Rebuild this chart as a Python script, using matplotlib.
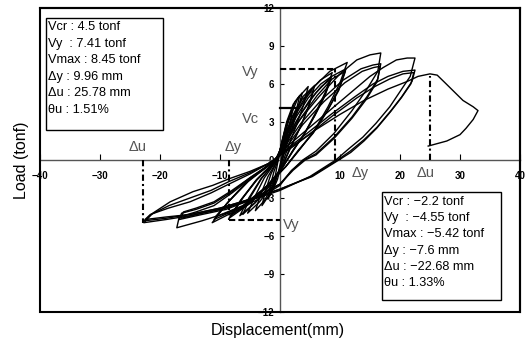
import numpy as np
import matplotlib
matplotlib.use("Agg")
import matplotlib.pyplot as plt
from matplotlib.patches import Rectangle

plt.rcParams['font.family'] = ['Liberation Sans', 'DejaVu Sans']

# ---- hysteresis loops as (disp mm, load tonf) ----
small_loops = [
    [(-0.3, 0.0), (0.2, 1.1), (0.7, 2.1), (1.2, 2.6), (0.9, 1.7), (0.5, 0.7), (0.1, -0.5),
     (-0.4, -1.5), (-1.1, -2.3), (-0.8, -1.3), (-0.5, -0.5), (-0.3, 0.0)],
    [(-0.3, 0.0), (0.3, 1.4), (1.0, 2.7), (1.6, 3.4), (2.1, 3.9), (1.6, 2.8), (1.0, 1.5),
     (0.4, 0.4), (-0.2, -0.8), (-1.0, -2.1), (-2.0, -3.1), (-1.6, -2.0), (-1.0, -0.9), (-0.3, 0.0)],
    [(-0.4, 0.0), (0.3, 1.4), (1.1, 3.0), (2.2, 4.4), (3.3, 5.1), (2.7, 3.9), (1.8, 2.5),
     (0.9, 1.1), (0.0, -0.6), (-1.0, -1.9), (-2.0, -2.9), (-3.0, -3.6), (-2.4, -2.4),
     (-1.5, -1.1), (-0.4, 0.0)],
    [(-0.4, 0.0), (0.4, 1.5), (1.3, 3.1), (2.5, 4.6), (3.7, 5.3), (3.0, 4.0), (2.0, 2.5),
     (1.0, 1.0), (0.0, -0.7), (-1.2, -2.0), (-2.6, -3.2), (-4.1, -4.0), (-3.2, -2.7),
     (-2.0, -1.3), (-0.4, 0.0)],
    [(-0.5, 0.0), (0.5, 1.6), (1.6, 3.3), (3.0, 4.9), (4.7, 5.8), (3.9, 4.3), (2.7, 2.7),
     (1.4, 1.1), (0.1, -0.7), (-1.5, -2.1), (-3.4, -3.3), (-5.4, -4.2), (-4.2, -2.9),
     (-2.6, -1.4), (-0.5, 0.0)],
    [(-0.5, 0.0), (0.6, 1.6), (2.0, 3.4), (3.8, 5.0), (5.8, 5.9), (4.8, 4.3), (3.4, 2.6),
     (1.8, 1.0), (0.2, -0.7), (-1.8, -2.1), (-4.2, -3.4), (-6.7, -4.4), (-5.2, -3.0),
     (-3.2, -1.5), (-0.5, 0.0)],
    [(-0.5, 0.0), (0.6, 1.5), (1.9, 3.2), (3.7, 4.8), (5.6, 5.5), (4.7, 4.1), (3.3, 2.5),
     (1.7, 1.0), (0.2, -0.7), (-1.7, -2.0), (-4.0, -3.3), (-6.2, -4.3), (-4.9, -2.9),
     (-3.0, -1.4), (-0.5, 0.0)],
]

mid_loops = [
    [(-0.6, 0.0), (0.8, 1.8), (2.5, 3.6), (4.5, 5.2), (6.7, 6.3), (8.7, 6.9), (7.6, 5.4),
     (6.0, 3.8), (4.2, 2.2), (2.3, 0.8), (0.4, -0.6), (-2.2, -2.1), (-5.2, -3.5),
     (-8.5, -4.6), (-6.6, -3.2), (-4.0, -1.6), (-0.6, 0.0)],
    [(-0.6, 0.0), (0.9, 1.7), (2.7, 3.4), (4.7, 4.9), (6.8, 6.0), (8.6, 6.6), (7.5, 5.1),
     (5.9, 3.6), (4.1, 2.1), (2.2, 0.8), (0.4, -0.6), (-2.1, -2.0), (-5.0, -3.4),
     (-8.3, -4.4), (-6.4, -3.1), (-3.9, -1.6), (-0.6, 0.0)],
    [(-0.6, 0.0), (1.0, 1.6), (2.9, 3.2), (4.9, 4.7), (6.9, 5.8), (8.5, 6.4), (7.4, 5.0),
     (5.8, 3.5), (4.0, 2.0), (2.1, 0.7), (0.4, -0.6), (-2.0, -2.0), (-4.9, -3.3),
     (-8.0, -4.3), (-6.2, -3.0), (-3.8, -1.5), (-0.6, 0.0)],
    [(-0.7, 0.0), (1.0, 1.9), (3.0, 3.9), (5.5, 5.7), (8.3, 7.0), (11.2, 7.7), (10.0, 6.1),
     (8.0, 4.2), (5.8, 2.4), (3.4, 0.9), (1.0, -0.5), (-2.5, -2.2), (-6.5, -3.8),
     (-11.3, -4.95), (-8.8, -3.4), (-5.5, -1.7), (-0.7, 0.0)],
    [(-0.7, 0.0), (1.2, 1.7), (3.4, 3.6), (6.0, 5.3), (8.6, 6.6), (11.0, 7.2), (9.9, 5.7),
     (7.9, 3.9), (5.6, 2.2), (3.2, 0.8), (1.0, -0.5), (-2.4, -2.2), (-6.3, -3.7),
     (-11.0, -4.7), (-8.6, -3.3), (-5.3, -1.7), (-0.7, 0.0)],
    [(-0.7, 0.0), (1.3, 1.6), (3.6, 3.4), (6.2, 5.1), (8.7, 6.4), (10.9, 7.0), (9.8, 5.5),
     (7.8, 3.8), (5.5, 2.1), (3.1, 0.8), (1.0, -0.5), (-2.3, -2.1), (-6.2, -3.6),
     (-10.8, -4.5), (-8.4, -3.2), (-5.2, -1.6), (-0.7, 0.0)],
]

big_loops = [
    # 16.8 mm cycles
    [(-0.8, 0.0), (0.6, 1.3), (3.0, 3.0), (6.5, 5.0), (10.0, 6.8), (12.8, 7.9), (15.0, 8.3),
     (16.8, 8.45), (16.3, 7.0), (14.5, 5.6), (12.0, 3.9), (9.0, 2.1), (6.0, 0.7), (3.8, 0.0),
     (1.8, -0.9), (0.0, -2.0), (-4.0, -3.2), (-9.0, -4.2), (-13.0, -4.8), (-17.2, -5.35),
     (-16.8, -4.5), (-14.0, -4.1), (-11.0, -3.6), (-8.0, -2.6), (-5.0, -1.5), (-2.5, -0.6),
     (-0.8, 0.0)],
    [(-0.8, 0.0), (1.0, 1.2), (3.5, 2.9), (7.0, 4.8), (10.5, 6.3), (13.5, 7.2), (15.5, 7.5),
     (16.8, 7.6), (16.3, 6.4), (14.5, 5.0), (12.0, 3.4), (9.0, 1.8), (6.0, 0.5), (4.0, 0.0),
     (2.0, -0.8), (0.0, -1.9), (-4.0, -3.0), (-9.0, -3.9), (-13.0, -4.3), (-16.8, -4.7),
     (-16.4, -4.2), (-14.0, -3.9), (-11.0, -3.4), (-8.0, -2.5), (-5.0, -1.4), (-2.5, -0.6),
     (-0.8, 0.0)],
    [(-0.8, 0.0), (1.2, 1.1), (3.8, 2.8), (7.3, 4.6), (10.8, 6.1), (13.7, 7.0), (15.6, 7.3),
     (16.7, 7.4), (16.2, 6.2), (14.4, 4.8), (12.0, 3.3), (9.0, 1.7), (6.0, 0.4), (4.2, 0.0),
     (2.2, -0.8), (0.0, -1.9), (-4.0, -2.9), (-9.0, -3.8), (-13.0, -4.2), (-16.5, -4.6),
     (-16.1, -4.1), (-14.0, -3.8), (-11.0, -3.3), (-8.0, -2.4), (-5.0, -1.4), (-2.5, -0.6),
     (-0.8, 0.0)],
    # 22.5 mm cycles
    [(-1.0, 0.0), (1.0, 1.0), (4.0, 2.2), (8.0, 3.8), (12.0, 5.4), (15.0, 6.6), (17.2, 7.3),
     (19.4, 7.9), (21.2, 8.05), (22.5, 8.05), (21.7, 6.6), (20.0, 5.4), (18.3, 4.2),
     (16.0, 2.9), (13.8, 1.8), (11.5, 0.9), (9.3, 0.0), (5.0, -1.3), (0.0, -2.4),
     (-5.0, -3.2), (-10.0, -3.9), (-15.0, -4.4), (-19.0, -4.7), (-22.7, -4.95),
     (-21.2, -4.2), (-18.3, -3.3), (-14.5, -2.5), (-11.2, -2.0), (-8.3, -1.45), (-5.0, -0.9),
     (-2.0, -0.3), (-1.0, 0.0)],
    [(-1.0, 0.0), (1.2, 0.9), (4.5, 2.1), (8.5, 3.6), (12.5, 5.0), (15.5, 6.0), (18.0, 6.6),
     (20.5, 7.0), (22.5, 7.1), (22.0, 6.2), (20.3, 5.0), (18.5, 3.9), (16.2, 2.6),
     (14.0, 1.6), (11.7, 0.7), (9.6, 0.0), (5.2, -1.3), (0.0, -2.3), (-5.0, -3.1),
     (-10.0, -3.8), (-15.0, -4.3), (-19.0, -4.6), (-22.6, -4.8), (-21.5, -4.3),
     (-18.5, -3.6), (-15.0, -3.0), (-11.5, -2.4), (-8.5, -1.7), (-5.0, -1.0), (-2.0, -0.3),
     (-1.0, 0.0)],
    [(-1.0, 0.0), (1.4, 0.9), (4.8, 2.0), (8.8, 3.5), (12.8, 4.9), (15.8, 5.8), (18.3, 6.4),
     (20.5, 6.8), (22.3, 6.9), (21.8, 6.0), (20.2, 4.9), (18.4, 3.8), (16.1, 2.5),
     (14.0, 1.5), (11.8, 0.6), (9.8, 0.0), (5.4, -1.3), (0.0, -2.3), (-5.0, -3.1),
     (-10.0, -3.8), (-15.0, -4.3), (-19.0, -4.5), (-22.5, -4.7), (-21.6, -4.3),
     (-18.6, -3.8), (-15.0, -3.3), (-11.5, -2.6), (-8.5, -1.9), (-5.0, -1.1), (-2.0, -0.3),
     (-1.0, 0.0)],
]

final_branch = [(-1.0, 0.0), (2.0, 1.0), (6.0, 2.4), (10.0, 3.6), (14.0, 4.7), (18.0, 5.6),
                (21.2, 6.2), (23.0, 6.6), (25.0, 6.8), (26.2, 6.7), (27.5, 6.1), (29.0, 5.4),
                (30.5, 4.7), (32.2, 4.2), (33.0, 3.9), (32.2, 3.2), (31.0, 2.5), (30.0, 2.0),
                (27.8, 1.5), (24.7, 1.1)]

# ---- marker lines (yield / ultimate points) ----
vc_load = 4.1
vc_end = 2.8
vy_pos = (9.2, 7.2)
vy_neg = (-8.5, -4.7)
du_pos = (25.0, 6.6)
du_neg = (-22.8, -4.95)

x_ticks = [-40, -30, -20, -10, 10, 20, 30, 40]
y_ticks = [-12, -9, -6, -3, 0, 3, 6, 9, 12]

pos_text = ["Vcr : 4.5 tonf", "Vy  : 7.41 tonf", "Vmax : 8.45 tonf",
            "\u0394y : 9.96 mm", "\u0394u : 25.78 mm", "\u03b8u : 1.51%"]
neg_text = ["Vcr : \u22122.2 tonf", "Vy  : \u22124.55 tonf", "Vmax : \u22125.42 tonf",
            "\u0394y : \u22127.6 mm", "\u0394u : \u221222.68 mm", "\u03b8u : 1.33%"]

fig = plt.figure(figsize=(5.3, 3.43), dpi=100)
ax = fig.add_axes([40 / 530, 31 / 343, 480 / 530, 304 / 343])
ax.set_xlim(-40, 40)
ax.set_ylim(-12, 12)

for group in (small_loops, mid_loops, big_loops, [final_branch]):
    for loop in group:
        pts = np.array(loop)
        ax.plot(pts[:, 0], pts[:, 1], color="black", lw=1.0, zorder=3)

# yield / crack / ultimate marks
dash = (0, (3, 1.5))
dashdot = (0, (3, 1.5, 1, 1.5))
ax.plot([0, vc_end], [vc_load, vc_load], color="black", lw=1.6, zorder=4)
ax.plot([0, vy_pos[0]], [vy_pos[1], vy_pos[1]], color="black", lw=1.5, ls=dash, zorder=4)
ax.plot([vy_pos[0], vy_pos[0]], [0, vy_pos[1]], color="black", lw=1.5, ls=dashdot, zorder=4)
ax.plot([vy_neg[0], 0], [vy_neg[1], vy_neg[1]], color="black", lw=1.5, ls=dash, zorder=4)
ax.plot([vy_neg[0], vy_neg[0]], [0, vy_neg[1]], color="black", lw=1.5, ls=dashdot, zorder=4)
ax.plot([du_pos[0], du_pos[0]], [0, du_pos[1]], color="black", lw=1.5, ls=dashdot, zorder=4)
ax.plot([du_neg[0], du_neg[0]], [0, du_neg[1]], color="black", lw=1.5, ls=dashdot, zorder=4)

lab_kw = dict(fontsize=10.5, color="#555555", ha="center", va="center")
ax.text(-5.0, 6.95, "Vy", **lab_kw)
ax.text(-5.0, 3.2, "Vc", **lab_kw)
ax.text(-7.8, 1.0, "\u0394y", **lab_kw)
ax.text(-23.8, 1.0, "\u0394u", **lab_kw)
ax.text(13.3, -1.0, "\u0394y", **lab_kw)
ax.text(24.2, -1.0, "\u0394u", **lab_kw)
ax.text(1.8, -5.1, "Vy", **lab_kw)

# axes through the origin
for side in ("left", "bottom"):
    ax.spines[side].set_position(("data", 0))
    ax.spines[side].set_color("#555555")
    ax.spines[side].set_linewidth(1.0)
for side in ("top", "right"):
    ax.spines[side].set_linewidth(1.5)
ax.add_patch(Rectangle((0, 0), 1, 1, transform=ax.transAxes, fill=False,
                       lw=1.5, ec="black", clip_on=False, zorder=5))

ax.set_xticks(x_ticks)
ax.set_yticks(y_ticks)
ax.set_xticklabels([f"{t:d}".replace("-", "\u2212") for t in x_ticks])
ax.set_yticklabels([f"{t:d}".replace("-", "\u2212") for t in y_ticks])
ax.tick_params(axis="x", direction="in", length=4, width=0.8, pad=8, labelsize=7)
ax.tick_params(axis="y", direction="in", length=3, width=0.8, pad=4, labelsize=7)
for lbl in ax.get_xticklabels() + ax.get_yticklabels():
    lbl.set_fontweight("bold")

# info boxes
ax.add_patch(Rectangle((0.0125, 0.599), 0.2435, 0.368, transform=ax.transAxes,
                       fill=True, fc="white", ec="black", lw=1.0, zorder=6))
for i, s in enumerate(pos_text):
    ax.text(0.0175, (312 - (27 + i * 16.6)) / 304, s, transform=ax.transAxes,
            fontsize=9.2, va="center", ha="left", zorder=7)
ax.add_patch(Rectangle((0.7125, 0.039), 0.2475, 0.356, transform=ax.transAxes,
                       fill=True, fc="white", ec="black", lw=1.0, zorder=6))
for i, s in enumerate(neg_text):
    ax.text(0.7175, (312 - (202 + i * 16.2)) / 304, s, transform=ax.transAxes,
            fontsize=9.2, va="center", ha="left", zorder=7)

fig.text(22 / 530, (343 - 160) / 343, "Load (tonf)", rotation=90, fontsize=11.5,
         ha="center", va="center")
fig.text(278 / 530, (343 - 330) / 343, "Displacement(mm)", fontsize=11.5,
         ha="center", va="center")

fig.savefig("out.png", dpi=100)
